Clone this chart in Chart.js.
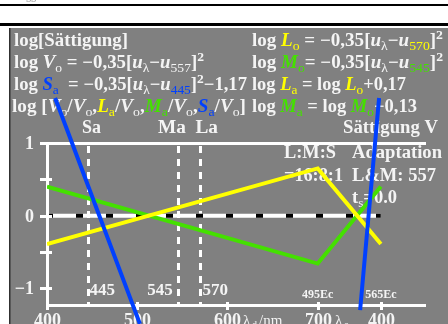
<!DOCTYPE html>
<html>
<head>
<meta charset="utf-8">
<script src="https://cdn.jsdelivr.net/npm/chart.js@4.4.1/dist/chart.umd.min.js"></script>
<style>
  html, body { margin: 0; padding: 0; background: #fff; }
  #wrap { width: 448px; height: 324px; }
</style>
</head>
<body>
<div id="wrap"><canvas id="chart" width="448" height="324"></canvas></div>
<script>
// wavelength axis: 400..700 nm, then the complementary side (770 = "400" on λc)
const lambdas = [400, 700, 770];
const lValues = [-0.39, 0.65, -0.39];
const mValues = [0.40, -0.66, 0.40];
const sLeftX = [409, 503];
const sLeftY = [1.62, -1.49];
const sRightX = [768, 747];
const sRightY = [1.62, -1.30];

const markLambdas = [445, 545, 570];
const markLabels = ['445', '545', '570'];
const xTicks = [400, 500, 600, 700, 770];
const xTickLabels = ['400', '500', '600', '700', '400'];
const yTicks = [1, 0.5, 0, -0.5, -1];
const yTickLabels = ['1', '', '0', '', '−1'];
const ecTicks = [700, 770];
const ecLabels = ['495Ec', '565Ec'];

const W = '#f4f4f4';
const YEL = '#ffff00';
const GRN = '#44e000';
const BLU = '#0040ff';
const SERIF = '"Liberation Serif", "DejaVu Serif", serif';

const toPts = (xs, ys) => xs.map((x, i) => ({ x: x, y: ys[i] }));

// draw a line of mixed text: [text, color, kind] kind: i = italic, b = subscript, p = superscript
function rich(ctx, segs, x, y, size, width) {
  const fontOf = (k) => {
    if (k === 'i') return 'italic bold ' + size + 'px ' + SERIF;
    if (k === 'b') return Math.round(size * 0.72) + 'px ' + SERIF;
    if (k === 'p') return 'bold ' + Math.round(size * 0.7) + 'px ' + SERIF;
    return 'bold ' + size + 'px ' + SERIF;
  };
  let total = 0;
  segs.forEach(s => { ctx.font = fontOf(s[2]); total += ctx.measureText(s[0]).width; });
  const sc = width ? width / total : 1;
  ctx.save();
  ctx.translate(x, y);
  ctx.scale(sc, 1);
  ctx.textAlign = 'left';
  ctx.textBaseline = 'alphabetic';
  let cx = 0;
  segs.forEach(s => {
    ctx.font = fontOf(s[2]);
    ctx.fillStyle = s[1];
    let dy = 0;
    if (s[2] === 'b') dy = 4;
    if (s[2] === 'p') dy = -7;
    ctx.fillText(s[0], cx, dy);
    cx += ctx.measureText(s[0]).width;
  });
  ctx.restore();
}

const backdrop = {
  id: 'backdrop',
  beforeDraw(chart) {
    const ctx = chart.ctx;
    ctx.save();
    ctx.fillStyle = '#ffffff';
    ctx.fillRect(0, 0, 448, 324);
    ctx.fillStyle = '#000000';
    ctx.fillRect(0, 4, 448, 2);
    ctx.fillRect(0, 23, 448, 3);
    ctx.fillStyle = '#808080';
    ctx.fillRect(10, 28, 438, 296);
    ctx.fillStyle = '#303030';
    ctx.fillRect(9, 28, 1.5, 296);
    ctx.fillStyle = '#999999';
    ctx.font = '10px ' + SERIF;
    ctx.fillText('gg', 26, 0);
    ctx.restore();
  },
  beforeDatasetsDraw(chart) {
    const ctx = chart.ctx;
    const xs = chart.scales.x, ys = chart.scales.y;
    const a = chart.chartArea;
    ctx.save();

    // heading formulas
    rich(ctx, [['log[Sättigung]', W]], 14, 46, 18, 114);
    rich(ctx, [['log ', W], ['L', YEL, 'i'], ['o', YEL, 'b'], [' = −0,35[', W], ['u', W, 'i'], ['λ', W, 'b'],
      ['−', W], ['u', W, 'i'], ['570', YEL, 'b'], [']', W], ['2', W, 'p']], 252, 46, 18, 191);
    rich(ctx, [['log ', W], ['V', W, 'i'], ['o', W, 'b'], [' = −0,35[', W], ['u', W, 'i'], ['λ', W, 'b'],
      ['−', W], ['u', W, 'i'], ['557', W, 'b'], [']', W], ['2', W, 'p']], 14, 68, 18, 190);
    rich(ctx, [['log ', W], ['M', GRN, 'i'], ['o', GRN, 'b'], ['= −0,35[', W], ['u', W, 'i'], ['λ', W, 'b'],
      ['−', W], ['u', W, 'i'], ['545', GRN, 'b'], [']', W], ['2', W, 'p']], 252, 68, 18, 191);
    rich(ctx, [['log ', W], ['S', BLU, 'i'], ['a', BLU, 'b'], ['  = −0,35[', W], ['u', W, 'i'], ['λ', W, 'b'],
      ['−', W], ['u', W, 'i'], ['445', BLU, 'b'], [']', W], ['2', W, 'p'], ['−1,17', W]], 14, 90, 18, 233);
    rich(ctx, [['log ', W], ['L', YEL, 'i'], ['a', YEL, 'b'], [' = log ', W], ['L', YEL, 'i'], ['o', YEL, 'b'],
      ['+0,17', W]], 252, 90, 18, 154);
    rich(ctx, [['log [', W], ['V', W, 'i'], ['o', W, 'b'], ['/', W], ['V', W, 'i'], ['o', W, 'b'], [',', W],
      ['L', YEL, 'i'], ['a', YEL, 'b'], ['/', W], ['V', W, 'i'], ['o', W, 'b'], [',', W],
      ['M', GRN, 'i'], ['a', GRN, 'b'], ['/', W], ['V', W, 'i'], ['o', W, 'b'], [',', W],
      ['S', BLU, 'i'], ['a', BLU, 'b'], ['/', W], ['V', W, 'i'], ['o', W, 'b'], [']', W]], 12, 112, 18, 234);
    rich(ctx, [['log ', W], ['M', GRN, 'i'], ['a', GRN, 'b'], [' = log ', W], ['M', GRN, 'i'], ['o', GRN, 'b'],
      ['−0,13', W]], 252, 112, 18, 165);
    rich(ctx, [['Sa', W]], 82, 133, 18, 19);
    rich(ctx, [['Ma  La', W]], 158, 133, 18, 60);
    rich(ctx, [['Sättigung V', W]], 343, 133, 18, 95);

    // legend block inside the plot
    rich(ctx, [['L:M:S', W]], 284, 158, 18, 52);
    rich(ctx, [['Adaptation', W]], 352, 158, 18, 90);
    rich(ctx, [['=16:8:1', W]], 284, 181, 18, 59);
    rich(ctx, [['L&M: 557', W]], 352, 181, 18, 84);
    rich(ctx, [['t', W], ['s', W, 'b'], ['=0.0', W]], 352, 203, 18, 45);

    ctx.strokeStyle = '#ffffff';
    ctx.lineWidth = 3;
    // vertical dashed marks
    ctx.setLineDash([7, 6]);
    markLambdas.forEach(l => {
      const px = Math.round(xs.getPixelForValue(l)) + 0.5;
      ctx.beginPath();
      ctx.moveTo(px, a.top + 3);
      ctx.lineTo(px, a.bottom);
      ctx.stroke();
    });
    ctx.setLineDash([]);

    // zero line, white with black dashes
    const y0 = ys.getPixelForValue(0);
    const xEnd = xs.getPixelForValue(770);
    ctx.lineWidth = 4;
    ctx.beginPath();
    ctx.moveTo(a.left, y0);
    ctx.lineTo(xEnd, y0);
    ctx.stroke();
    ctx.save();
    ctx.beginPath();
    ctx.rect(a.left, y0 - 5, xEnd - a.left, 10);
    ctx.clip();
    ctx.strokeStyle = '#000000';
    ctx.setLineDash([7, 23]);
    ctx.beginPath();
    ctx.moveTo(a.left - 1, y0);
    ctx.lineTo(xEnd, y0);
    ctx.stroke();
    ctx.restore();
    ctx.setLineDash([]);

    // frame
    ctx.lineWidth = 3;
    ctx.beginPath();
    ctx.moveTo(a.left, a.top + 0.5);
    ctx.lineTo(a.right, a.top + 0.5);
    ctx.moveTo(a.left + 0.5, a.top);
    ctx.lineTo(a.left + 0.5, a.bottom);
    ctx.moveTo(a.left, a.bottom + 0.5);
    ctx.lineTo(a.right, a.bottom + 0.5);
    ctx.stroke();

    // y ticks
    ctx.fillStyle = W;
    ctx.font = 'bold 18px ' + SERIF;
    ctx.textAlign = 'right';
    ctx.textBaseline = 'middle';
    yTicks.forEach((v, i) => {
      const py = Math.round(ys.getPixelForValue(v)) + 0.5;
      ctx.beginPath();
      ctx.moveTo(a.left - 7, py);
      ctx.lineTo(a.left + 5, py);
      ctx.stroke();
      if (yTickLabels[i]) ctx.fillText(yTickLabels[i], 34, py + 1);
    });

    // x ticks
    ctx.textAlign = 'center';
    ctx.textBaseline = 'alphabetic';
    xTicks.forEach((v, i) => {
      const px = Math.round(xs.getPixelForValue(v)) + 0.5;
      ctx.beginPath();
      ctx.moveTo(px, a.bottom - 3);
      ctx.lineTo(px, a.bottom + 5);
      ctx.stroke();
      ctx.font = 'bold 18px ' + SERIF;
      ctx.fillText(xTickLabels[i], px, 326);
    });
    ctx.restore();

    // axis unit labels (thin font)
    ctx.save();
    ctx.fillStyle = W;
    ctx.textAlign = 'left';
    ctx.font = '15px ' + SERIF;
    ctx.fillText('λ', 243, 325);
    ctx.font = '10px ' + SERIF;
    ctx.fillText('d', 252, 328);
    ctx.font = '15px ' + SERIF;
    ctx.fillText('/nm', 259, 325);
    ctx.fillText('λ', 335, 325);
    ctx.font = '10px ' + SERIF;
    ctx.fillText('c', 344, 328);

    // Ec labels and marker labels
    ctx.font = 'bold 12px ' + SERIF;
    ctx.textAlign = 'center';
    ecTicks.forEach((v, i) => ctx.fillText(ecLabels[i], xs.getPixelForValue(v), 298));
    ctx.font = 'bold 17px ' + SERIF;
    markLambdas.forEach((l, i) => {
      const px = xs.getPixelForValue(l);
      ctx.textAlign = i === 1 ? 'right' : 'left';
      ctx.fillText(markLabels[i], i === 1 ? px - 5 : px + 2, 295);
    });
    ctx.restore();
  }
};

new Chart(document.getElementById('chart'), {
  type: 'scatter',
  data: {
    datasets: [
      { label: 'S', data: toPts(sLeftX, sLeftY), borderColor: BLU, order: 0, clip: false },
      { label: 'S', data: toPts(sRightX, sRightY), borderColor: BLU, order: 0, clip: false },
      { label: 'L', data: toPts(lambdas, lValues), borderColor: YEL, order: 1 },
      { label: 'M', data: toPts(lambdas, mValues), borderColor: GRN, order: 2 },
    ],
  },
  options: {
    responsive: false,
    animation: false,
    showLine: true,
    datasets: {
      scatter: { borderWidth: 4, pointRadius: 0, tension: 0, borderCapStyle: 'butt' },
    },
    layout: { padding: { left: 47, top: 143, right: 22, bottom: 19 } },
    scales: {
      x: { type: 'linear', min: 400, max: 820, display: false },
      y: { type: 'linear', min: -1.23, max: 1.0, display: false },
    },
    plugins: {
      legend: { display: false },
      tooltip: { enabled: false },
    },
  },
  plugins: [backdrop],
});
</script>
</body>
</html>
